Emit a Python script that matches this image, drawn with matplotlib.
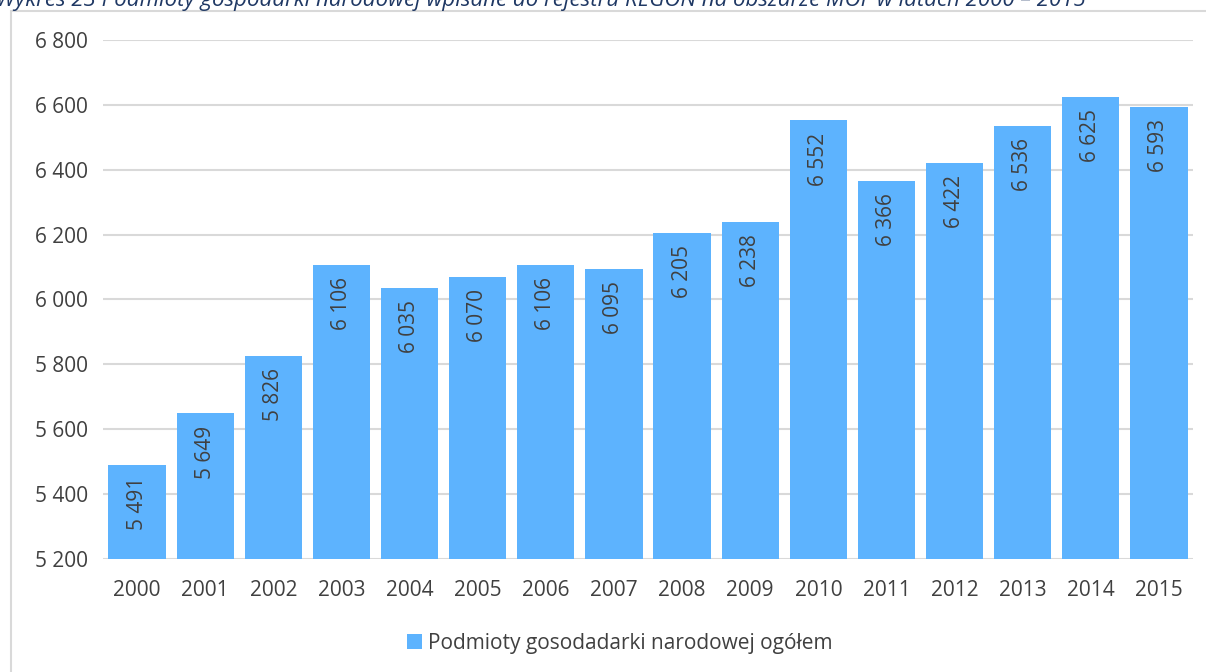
import matplotlib.pyplot as plt
from matplotlib.patches import Rectangle
from matplotlib.ticker import FuncFormatter

years = ['2000', '2001', '2002', '2003', '2004', '2005', '2006', '2007',
         '2008', '2009', '2010', '2011', '2012', '2013', '2014', '2015']
values = [5491, 5649, 5826, 6106, 6035, 6070, 6106, 6095,
          6205, 6238, 6552, 6366, 6422, 6536, 6625, 6593]
series_name = 'Podmioty gosodadarki narodowej ogółem'
title = 'Wykres 23 Podmioty gospodarki narodowej wpisane do rejestru REGON na obszarze MOF w latach 2000 – 2015'

plt.rcParams['font.family'] = ['Open Sans', 'DejaVu Sans']
text_color = '#404040'
bar_color = '#5DB3FE'

fig = plt.figure(figsize=(12.06, 6.72), dpi=100)
ax = fig.add_axes([103 / 1206, 1 - 559 / 672, 1090 / 1206, 519 / 672])

# outer chart frame (clipped by figure edges on the right and bottom)
fig.patches.append(Rectangle((11 / 1206, -0.1), 1.2, 1 - 11 / 672 + 0.1,
                             transform=fig.transFigure, fill=False,
                             edgecolor='#D9D9D9', linewidth=1.5, zorder=0))

# title, partly cut off at the top as in the source
fig.text(-4 / 1206, 1 - 6 / 672, title, fontsize=16, style='italic',
         color='#1F3864', ha='left', va='baseline')

x = range(len(years))
bars = ax.bar(x, values, width=0.84, color=bar_color, zorder=2, label=series_name)

for i, v in enumerate(values):
    lbl = f'{v:,}'.replace(',', ' ')
    ax.text(i, v - 38, lbl, rotation=90, ha='center', va='top',
            fontsize=15, color=text_color, zorder=3)

ax.set_ylim(5200, 6800)
ax.set_xlim(-0.5, len(years) - 0.5)
ax.set_yticks(range(5200, 6801, 200))
ax.yaxis.set_major_formatter(FuncFormatter(lambda v, p: f'{int(v):,}'.replace(',', ' ')))
ax.set_xticks(list(x))
ax.set_xticklabels(years)
ax.tick_params(axis='both', length=0, labelsize=15, labelcolor=text_color)
ax.tick_params(axis='y', pad=11)
ax.tick_params(axis='x', pad=15)
ax.grid(axis='y', color='#D9D9D9', linewidth=1.5, zorder=0)
for s in ax.spines.values():
    s.set_visible(False)

fig.legend(handles=[bars], labels=[series_name], loc='center',
           bbox_to_anchor=(620 / 1206, 1 - 643 / 672), frameon=False, fontsize=15,
           labelcolor=text_color, handlelength=0.7, handleheight=0.7, handletextpad=0.3)

fig.savefig('out.png', dpi=100)
